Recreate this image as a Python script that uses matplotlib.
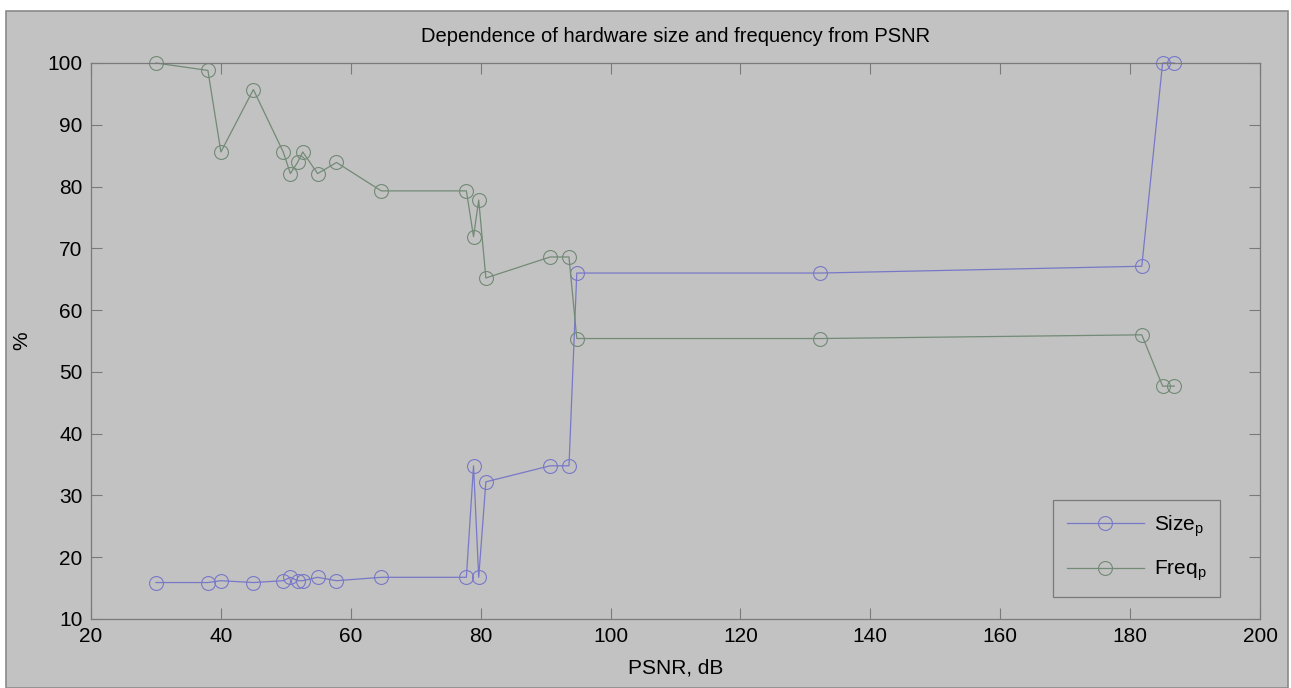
import matplotlib
matplotlib.use("Agg")
import matplotlib.pyplot as plt
from matplotlib.patches import Rectangle

plt.rcParams['font.family'] = ['Liberation Sans', 'DejaVu Sans']
plt.rcParams['mathtext.default'] = 'regular'

psnr = [30, 38, 40, 45, 49.6, 50.7, 51.8, 52.6, 54.9, 57.8, 64.7, 77.8, 78.9, 79.7,
        80.8, 90.7, 93.6, 94.8, 132.3, 181.8, 185, 186.8]
size_p = [15.9, 15.9, 16.2, 15.9, 16.2, 16.75, 16.2, 16.2, 16.75, 16.2, 16.75, 16.75, 34.8, 16.75,
          32.2, 34.8, 34.8, 66.0, 66.0, 67.1, 100, 100]
freq_p = [100, 98.8, 85.6, 95.7, 85.6, 82.1, 83.9, 85.6, 82.1, 83.9, 79.3, 79.3, 71.9, 77.8,
          65.2, 68.6, 68.6, 55.4, 55.4, 56.0, 47.7, 47.7]

xticks = [20, 40, 60, 80, 100, 120, 140, 160, 180, 200]
yticks = [10, 20, 30, 40, 50, 60, 70, 80, 90, 100]

W, H = 1291, 688
bg = '#c2c2c2'
fig = plt.figure(figsize=(W / 100, H / 100), dpi=100, facecolor='white')
fig.patches.append(Rectangle((6 / W, 0), (1288 - 6) / W, 1 - 11 / H, transform=fig.transFigure,
                             facecolor=bg, edgecolor='#8a8a8a', linewidth=1.2, zorder=-10))

ax = fig.add_axes([91 / W, 1 - 619 / H, (1260 - 91) / W, (619 - 63) / H])
ax.set_facecolor(bg)

size_col = '#7878c8'
freq_col = '#728a76'
ax.plot(psnr, size_p, color=size_col, linewidth=0.9, marker='o', markersize=10,
        markerfacecolor='none', markeredgecolor=size_col, markeredgewidth=0.8,
        label='Size$_p$', clip_on=False)
ax.plot(psnr, freq_p, color=freq_col, linewidth=0.9, marker='o', markersize=10,
        markerfacecolor='none', markeredgecolor=freq_col, markeredgewidth=0.8,
        label='Freq$_p$', clip_on=False)

ax.set_xlim(20, 200)
ax.set_ylim(10, 100)
ax.set_xticks(xticks)
ax.set_yticks(yticks)
ax.tick_params(direction='in', length=8, width=0.8, color='#7a7a7a', labelsize=15,
               top=True, right=True, pad=6)
for s in ax.spines.values():
    s.set_color('#7a7a7a')
    s.set_linewidth(0.9)

ax.set_title('Dependence of hardware size and frequency from PSNR', fontsize=14.5, pad=15)
ax.set_xlabel('PSNR, dB', fontsize=15, labelpad=9)
ax.set_ylabel('%', fontsize=15, labelpad=12)

leg = ax.legend(loc='upper left', bbox_to_anchor=(1053 / W, 1 - 500 / H),
                bbox_transform=fig.transFigure, borderaxespad=0, fontsize=15,
                handlelength=3.7, handletextpad=0.5, labelspacing=0.95, borderpad=0.65,
                fancybox=False, frameon=True)
leg.get_frame().set_facecolor(bg)
leg.get_frame().set_edgecolor('#7a7a7a')
leg.get_frame().set_linewidth(0.9)
leg.get_frame().set_alpha(1)

fig.savefig('out.png', dpi=100, facecolor=fig.get_facecolor())
